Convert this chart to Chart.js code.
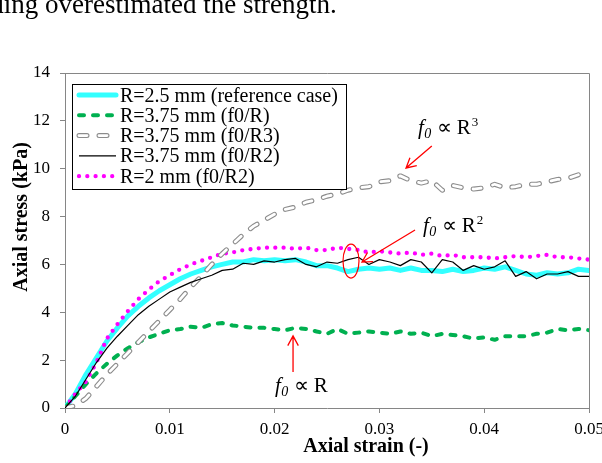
<!DOCTYPE html>
<html>
<head>
<meta charset="utf-8">
<script src="https://cdn.jsdelivr.net/npm/chart.js@4.4.0/dist/chart.umd.min.js"></script>
<style>
  html, body { margin: 0; padding: 0; background: #fff; }
  #wrap { width: 602px; height: 463px; }
</style>
</head>
<body>
<div id="wrap"><canvas id="c" width="602" height="463"></canvas></div>
<script>
// axial strain (-) shared by all series
const strain = [0, 0.001, 0.002, 0.003, 0.004, 0.005, 0.006, 0.007, 0.008, 0.009,
  0.010, 0.011, 0.012, 0.013, 0.014, 0.015, 0.016, 0.017, 0.018, 0.019,
  0.020, 0.021, 0.022, 0.023, 0.024, 0.025, 0.026, 0.027, 0.028, 0.029,
  0.030, 0.031, 0.032, 0.033, 0.034, 0.035, 0.036, 0.037, 0.038, 0.039,
  0.040, 0.041, 0.042, 0.043, 0.044, 0.045, 0.046, 0.047, 0.048, 0.049, 0.050];

// axial stress (kPa)
const refCase = [0, 0.6, 1.4, 2.1, 2.8, 3.35, 3.85, 4.25, 4.6, 4.9,
  5.15, 5.4, 5.6, 5.75, 5.9, 6.0, 6.1, 6.1, 6.2, 6.15,
  6.2, 6.15, 6.2, 6.1, 5.95, 5.95, 5.85, 5.7, 5.8, 5.85,
  5.8, 5.85, 5.75, 5.85, 5.75, 5.75, 5.7, 5.8, 5.7, 5.75,
  5.85, 5.8, 5.9, 5.75, 5.6, 5.55, 5.65, 5.6, 5.65, 5.8, 5.75];
const r375R = [0, 0.5, 1.0, 1.45, 1.85, 2.2, 2.5, 2.75, 2.95, 3.1,
  3.25, 3.3, 3.4, 3.35, 3.5, 3.55, 3.45, 3.4, 3.35, 3.35,
  3.3, 3.25, 3.35, 3.3, 3.2, 3.1, 3.3, 3.1, 3.15, 3.2,
  3.15, 3.1, 3.2, 3.1, 3.15, 3.0, 3.1, 3.05, 3.0, 2.9,
  2.95, 2.85, 3.0, 3.0, 3.0, 3.1, 3.15, 3.3, 3.25, 3.3, 3.25];
const r375R3 = [0, 0.1, 0.4, 0.9, 1.4, 1.85, 2.3, 2.75, 3.2, 3.65,
  4.1, 4.55, 5.05, 5.5, 6.0, 6.45, 6.85, 7.25, 7.6, 7.85,
  8.1, 8.3, 8.4, 8.6, 8.7, 8.85, 8.95, 9.1, 9.2, 9.25,
  9.45, 9.5, 9.7, 9.5, 9.4, 9.5, 9.1, 9.3, 9.2, 9.15,
  9.2, 9.35, 9.2, 9.25, 9.35, 9.35, 9.45, 9.55, 9.6, 9.75, 9.65];
const r375R2 = [0, 0.5, 1.2, 1.9, 2.5, 3.0, 3.45, 3.9, 4.25, 4.55,
  4.85, 5.05, 5.25, 5.4, 5.55, 5.75, 5.8, 6.05, 6.0, 6.15,
  6.1, 6.2, 6.25, 6.0, 5.9, 6.1, 6.05, 6.2, 6.3, 6.0,
  6.2, 6.1, 5.95, 6.2, 6.1, 5.65, 6.2, 6.1, 5.75, 5.95,
  5.8, 5.9, 6.15, 5.5, 5.7, 5.4, 5.6, 5.6, 5.7, 5.5, 5.5];
const r2R2 = [0, 0.6, 1.1, 1.9, 2.9, 3.5, 4.05, 4.55, 4.95, 5.3,
  5.55, 5.8, 6.0, 6.15, 6.3, 6.45, 6.5, 6.6, 6.65, 6.7,
  6.7, 6.7, 6.65, 6.7, 6.6, 6.6, 6.7, 6.65, 6.6, 6.5,
  6.55, 6.5, 6.45, 6.5, 6.4, 6.45, 6.35, 6.4, 6.3, 6.3,
  6.3, 6.25, 6.3, 6.35, 6.3, 6.35, 6.4, 6.3, 6.3, 6.25, 6.2];

const seriesNames = ['R=2.5 mm (reference case)', 'R=3.75 mm (f0/R)', 'R=3.75 mm (f0/R3)',
  'R=3.75 mm (f0/R2)', 'R=2 mm (f0/R2)'];
const xTicks = [0, 0.01, 0.02, 0.03, 0.04, 0.05];
const yTicks = [0, 2, 4, 6, 8, 10, 12, 14];

const topLine = 'ding overestimated the strength.';
const xTitle = 'Axial strain (-)';
const yTitle = 'Axial stress (kPa)';

// annotation anchors: label position in px, arrow ends in data units [strain, stress]
const notes = [
  { text: [418, 134], sup: '3', from: [0.0350, 10.95], to: [0.03254, 10.03] },
  { text: [423, 232], sup: '2', from: [0.0334, 7.44], to: [0.02834, 6.10] },
  { text: [275, 392], sup: '', from: [0.02176, 1.50], to: [0.02176, 3.01] }
];
const ringAt = [0.02729, 6.14];

const serif = "'Liberation Serif', 'Times New Roman', serif";
const pts = (ys) => strain.map((x, i) => ({ x: x, y: ys[i] }));

function fLabel(ctx, x, y, sup) {
  ctx.textAlign = 'left';
  ctx.fillStyle = '#000';
  ctx.font = 'italic 21px ' + serif;
  ctx.fillText('f', x, y);
  let w = ctx.measureText('f').width + 0.5;
  ctx.font = 'italic 14px ' + serif;
  ctx.fillText('0', x + w, y + 4);
  w += ctx.measureText('0').width;
  ctx.font = '21px ' + serif;
  ctx.fillText(' \u221D R', x + w, y);
  w += ctx.measureText(' \u221D R').width;
  if (sup) {
    ctx.font = '13px ' + serif;
    ctx.fillText(sup, x + w + 1, y - 8);
  }
}

function arrow(ctx, x1, y1, x2, y2) {
  const ang = Math.atan2(y2 - y1, x2 - x1);
  const h = 11;
  ctx.beginPath();
  ctx.moveTo(x1, y1);
  ctx.lineTo(x2, y2);
  ctx.moveTo(x2 - h * Math.cos(ang - 0.5), y2 - h * Math.sin(ang - 0.5));
  ctx.lineTo(x2, y2);
  ctx.lineTo(x2 - h * Math.cos(ang + 0.5), y2 - h * Math.sin(ang + 0.5));
  ctx.stroke();
}

const decor = {
  id: 'decor',
  afterDraw(chart) {
    const ctx = chart.ctx;
    const a = chart.chartArea;
    const xs = chart.scales.x, ys = chart.scales.y;
    ctx.save();

    // plot frame (top and right)
    ctx.strokeStyle = '#868686';
    ctx.lineWidth = 1;
    ctx.setLineDash([]);
    ctx.beginPath();
    ctx.moveTo(a.left, a.top + 0.5);
    ctx.lineTo(a.right + 0.5, a.top + 0.5);
    ctx.lineTo(a.right + 0.5, a.bottom);
    ctx.stroke();

    // sentence cut off above the figure
    ctx.fillStyle = '#000';
    ctx.textBaseline = 'alphabetic';
    ctx.textAlign = 'left';
    ctx.font = '27px ' + serif;
    ctx.fillText(topLine, -9.7, 13);

    // axis titles
    ctx.font = 'bold 20px ' + serif;
    ctx.textAlign = 'center';
    ctx.fillText(xTitle, 366, 452);
    ctx.save();
    ctx.translate(27, 217);
    ctx.rotate(-Math.PI / 2);
    ctx.fillText(yTitle, 0, 0);
    ctx.restore();

    // legend box
    ctx.fillStyle = '#fff';
    ctx.fillRect(72.5, 84.5, 274, 105);
    ctx.strokeStyle = '#000';
    ctx.strokeRect(72.5, 84.5, 274, 105);
    const items = chart.data.datasets.filter(d => d.inLegend);
    items.forEach((d, i) => {
      const y = 95 + i * 20.3;
      ctx.setLineDash(d.borderDash || []);
      ctx.lineCap = d.borderCapStyle || 'butt';
      ctx.lineWidth = d.borderWidth;
      ctx.strokeStyle = d.borderColor;
      ctx.beginPath();
      ctx.moveTo(79, y);
      ctx.lineTo(116, y);
      ctx.stroke();
      if (d.outline) {
        ctx.lineWidth = 2.8;
        ctx.strokeStyle = '#fff';
        ctx.stroke();
      }
      ctx.setLineDash([]);
      ctx.fillStyle = '#000';
      ctx.textAlign = 'left';
      ctx.font = '20px ' + serif;
      ctx.fillText(d.label, 120, y + 6.5);
    });

    // annotations
    ctx.lineCap = 'butt';
    ctx.setLineDash([]);
    notes.forEach(n => {
      ctx.strokeStyle = '#ff0000';
      ctx.lineWidth = 1.3;
      arrow(ctx, xs.getPixelForValue(n.from[0]), ys.getPixelForValue(n.from[1]),
        xs.getPixelForValue(n.to[0]), ys.getPixelForValue(n.to[1]));
      fLabel(ctx, n.text[0], n.text[1], n.sup);
    });
    ctx.strokeStyle = '#ff0000';
    ctx.lineWidth = 1.2;
    ctx.beginPath();
    ctx.ellipse(xs.getPixelForValue(ringAt[0]), ys.getPixelForValue(ringAt[1]), 8, 17, 0, 0, Math.PI * 2);
    ctx.stroke();

    ctx.restore();
  }
};

const ctx = document.getElementById('c').getContext('2d');
const myChart = new Chart(ctx, {
  type: 'line',
  data: {
    datasets: [
      {
        label: seriesNames[0], data: pts(refCase), inLegend: true,
        borderColor: '#33ffff', borderWidth: 5, borderCapStyle: 'round', order: 6
      },
      {
        label: seriesNames[1], data: pts(r375R), inLegend: true,
        borderColor: '#00b050', borderWidth: 4, borderDash: [5, 9], borderCapStyle: 'round', order: 5
      },
      {
        label: seriesNames[2], data: pts(r375R3), inLegend: true, outline: true,
        borderColor: '#8c8c8c', borderWidth: 5, borderDash: [8, 12], borderCapStyle: 'round', order: 3
      },
      {
        label: seriesNames[2] + ' inner', data: pts(r375R3),
        borderColor: '#ffffff', borderWidth: 2.8, borderDash: [8, 12], borderCapStyle: 'round', order: 2
      },
      {
        label: seriesNames[3], data: pts(r375R2), inLegend: true,
        borderColor: '#000000', borderWidth: 1.2, order: 1
      },
      {
        label: seriesNames[4], data: pts(r2R2), inLegend: true,
        borderColor: '#ff00ff', borderWidth: 4.3, borderDash: [0, 8.3], borderCapStyle: 'round', order: 4
      }
    ]
  },
  options: {
    responsive: false,
    animation: false,
    parsing: false,
    layout: { padding: { left: 0, top: 73, right: 13, bottom: 0 } },
    elements: {
      point: { radius: 0, hoverRadius: 0 },
      line: { tension: 0, borderJoinStyle: 'round', fill: false }
    },
    plugins: {
      legend: { display: false },
      tooltip: { enabled: false }
    },
    scales: {
      x: {
        type: 'linear', min: 0, max: 0.05,
        afterBuildTicks: (s) => { s.ticks = xTicks.map(v => ({ value: v })); },
        afterFit: (s) => { s.height = 55; s.paddingLeft = 0; s.paddingRight = 0; },
        ticks: {
          color: '#000', padding: 6, maxRotation: 0, autoSkip: false,
          font: { family: serif, size: 17 },
          callback: (v) => v === 0 ? '0' : v.toFixed(2)
        },
        grid: { drawOnChartArea: false, drawTicks: true, tickLength: 5, color: '#868686' },
        border: { color: '#868686', width: 1 }
      },
      y: {
        type: 'linear', min: 0, max: 14,
        afterBuildTicks: (s) => { s.ticks = yTicks.map(v => ({ value: v })); },
        afterFit: (s) => { s.width = 65; s.paddingTop = 0; s.paddingBottom = 0; },
        ticks: {
          color: '#000', padding: 10, autoSkip: false,
          font: { family: serif, size: 17 }
        },
        grid: { drawOnChartArea: false, drawTicks: true, tickLength: 5, color: '#868686' },
        border: { color: '#868686', width: 1 }
      }
    }
  },
  plugins: [decor]
});
</script>
</body>
</html>
